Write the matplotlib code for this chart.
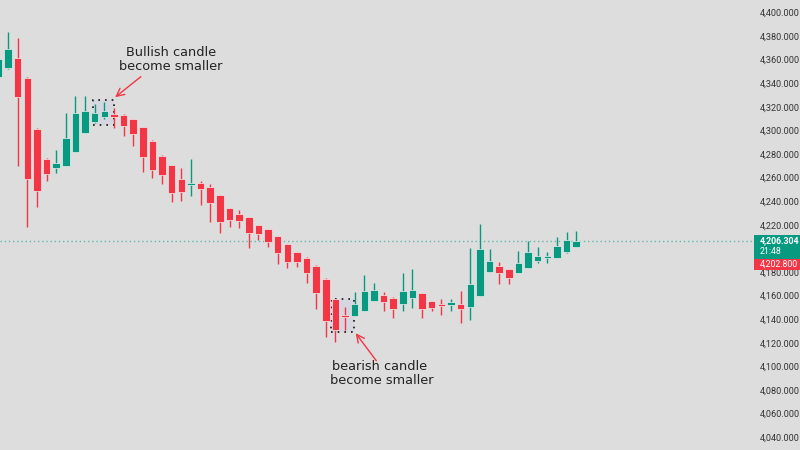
import numpy as np
import matplotlib
matplotlib.use('Agg')
import matplotlib.pyplot as plt
import matplotlib.transforms as mtransforms
from matplotlib.patches import Rectangle
from matplotlib.ticker import FuncFormatter

# OHLC, one entry per candle
opens = [4345.2, 4352.8, 4361.3, 4344.4, 4301.1, 4275.7, 4268.1, 4269.8, 4281.7, 4297.8,
         4307.1, 4311.3, 4313.9, 4313.0, 4309.6, 4302.8, 4291.0, 4278.3, 4270.6, 4258.8,
         4253.7, 4255.4, 4252.0, 4245.2, 4234.2, 4229.1, 4226.6, 4219.8, 4216.4, 4210.5,
         4203.7, 4196.9, 4191.9, 4185.1, 4174.1, 4157.1, 4143.6, 4142.7, 4147.0, 4155.4,
         4160.5, 4158.0, 4152.9, 4158.0, 4162.2, 4155.4, 4152.9, 4152.0, 4152.9, 4150.4,
         4159.7, 4180.0, 4185.1, 4182.5, 4179.2, 4183.4, 4189.3, 4191.9, 4191.9, 4196.9,
         4201.2]
highs = [4368.1, 4383.3, 4378.2, 4345.0, 4302.0, 4276.2, 4283.4, 4314.7, 4329.1, 4329.1,
         4322.3, 4324.0, 4318.9, 4313.5, 4310.0, 4303.2, 4291.4, 4278.7, 4271.0, 4268.1,
         4275.7, 4257.1, 4254.5, 4245.6, 4234.6, 4232.5, 4227.0, 4220.2, 4216.8, 4210.9,
         4204.1, 4197.3, 4192.3, 4185.5, 4174.5, 4157.5, 4150.4, 4163.1, 4177.5, 4170.7,
         4163.1, 4158.4, 4179.2, 4182.5, 4162.6, 4155.8, 4157.1, 4157.1, 4163.9, 4200.3,
         4220.7, 4199.5, 4188.5, 4182.9, 4197.8, 4206.3, 4201.2, 4197.0, 4209.7, 4213.9,
         4214.7]
lows = [4342.7, 4352.0, 4269.8, 4218.1, 4235.1, 4257.1, 4263.9, 4269.4, 4281.3, 4297.4,
        4306.2, 4309.6, 4302.0, 4295.2, 4286.7, 4264.7, 4259.6, 4254.5, 4239.3, 4240.2,
        4244.4, 4236.8, 4222.4, 4213.1, 4218.1, 4217.3, 4200.3, 4207.1, 4201.2, 4186.8,
        4183.4, 4184.2, 4170.7, 4148.7, 4124.9, 4120.7, 4130.9, 4142.3, 4146.6, 4155.0,
        4147.0, 4141.0, 4147.0, 4149.5, 4141.0, 4147.0, 4143.6, 4147.0, 4136.8, 4139.3,
        4159.3, 4179.6, 4169.8, 4169.8, 4178.8, 4183.0, 4187.6, 4187.6, 4191.5, 4196.5,
        4200.8]
closes = [4360.4, 4368.9, 4328.2, 4258.8, 4248.6, 4263.0, 4272.3, 4293.5, 4314.7, 4316.4,
          4314.7, 4316.4, 4311.3, 4303.7, 4296.9, 4277.4, 4266.4, 4262.2, 4246.9, 4247.8,
          4255.4, 4250.3, 4238.5, 4222.4, 4224.1, 4223.2, 4213.1, 4212.2, 4205.4, 4196.1,
          4188.5, 4188.5, 4179.2, 4162.2, 4138.5, 4130.9, 4141.9, 4152.9, 4163.9, 4164.8,
          4154.6, 4148.7, 4163.9, 4164.8, 4148.7, 4149.5, 4151.2, 4154.6, 4148.7, 4169.8,
          4199.5, 4189.3, 4179.2, 4175.0, 4187.6, 4196.9, 4193.6, 4192.7, 4202.0, 4207.1,
          4206.304]

last_price = 4206.304
other_price = 4202.800
timer_label = '21:48'

up_color = '#089981'
down_color = '#f23645'
bg = '#dddddd'
axis_font = ['Roboto', 'DejaVu Sans']

fig = plt.figure(figsize=(8, 4.5), dpi=100)
fig.patch.set_facecolor(bg)
ax = fig.add_axes([0, 0, 0.945, 1])
ax.set_facecolor(bg)

o = np.array(opens)
h = np.array(highs)
l = np.array(lows)
c = np.array(closes)
x = np.arange(len(o))
colors = np.where(c >= o, up_color, down_color)

# wicks then bodies
ax.vlines(x, l, h, colors=colors, lw=1.0, zorder=2)
body = c - o
body = np.where(np.abs(body) < 1.6, np.where(body >= 0, 1.6, -1.6), body)
ax.bar(x, body, bottom=o, width=0.78, color=colors,
       edgecolor='#eeeeee', linewidth=0.5, zorder=3)

ax.set_xlim(0.169, 78.67)
ax.set_ylim(4029.2, 4410.4)

# current price dotted line
ax.axhline(last_price, color='#5fb8a8', lw=1, ls=(0, (1, 2)), zorder=1)

# price axis on the right (the 4,200 label sits under the price tag)
ax.yaxis.tick_right()
ax.set_yticks(np.arange(4040, 4401, 20))
ax.yaxis.set_major_formatter(
    FuncFormatter(lambda v, p: '' if abs(v - 4200) < 1 else f'{v:,.3f}'))
ax.tick_params(axis='y', length=0, pad=2.5, labelsize=6.6, labelcolor='#333333')
for lab in ax.get_yticklabels():
    lab.set_family(axis_font)
ax.set_xticks([])
for s in ax.spines.values():
    s.set_visible(False)

# price tags on the axis
trans = mtransforms.blended_transform_factory(ax.transAxes, ax.transData)
ax.add_patch(Rectangle((0.997, last_price - 15.0), 0.07, 20.0, transform=trans,
                       facecolor=up_color, edgecolor='none', clip_on=False, zorder=10))
ax.add_patch(Rectangle((0.997, 4181.3), 0.07, 10.0, transform=trans,
                       facecolor=down_color, edgecolor='none', clip_on=False, zorder=10))
tag_font = dict(family=axis_font, fontsize=6.3, color='white', transform=trans,
                clip_on=False, zorder=11, ha='left', va='center')
ax.text(1.0045, last_price, f'{last_price:,.3f}', fontweight='bold', **tag_font)
ax.text(1.0045, last_price - 8.7, timer_label, **tag_font)
ax.text(1.0045, 4186.3, f'{other_price:,.3f}', **tag_font)

# highlight boxes
ax.add_patch(Rectangle((9.83, 4304.5), 2.17, 21.2, facecolor='#d6d6e0',
                       edgecolor='#111111', ls=(0, (1, 3)), lw=1.2, zorder=1))
ax.add_patch(Rectangle((34.54, 4129.2), 2.39, 27.9, facecolor='#d6d6e0',
                       edgecolor='#111111', ls=(0, (1, 3)), lw=1.2, zorder=1))

# annotations
arrow = dict(arrowstyle='->', color=down_color, lw=1.0, mutation_scale=14)
ax.annotate('', xy=(11.9, 4326.6), xytext=(15.02, 4346.9), arrowprops=arrow, zorder=5)
ax.annotate('', xy=(36.93, 4130.0), xytext=(39.42, 4102.9), arrowprops=arrow, zorder=5)
ax.text(17.93, 4360.4, 'Bullish candle\nbecome smaller', ha='center', va='center',
        fontsize=9.3, color='#222222', linespacing=1.1, zorder=6)
ax.text(39.6, 4093.6, 'bearish candle\n become smaller', ha='center', va='center',
        fontsize=9.3, color='#222222', linespacing=1.1, zorder=6)

fig.savefig('out.png', dpi=100, facecolor=bg)
